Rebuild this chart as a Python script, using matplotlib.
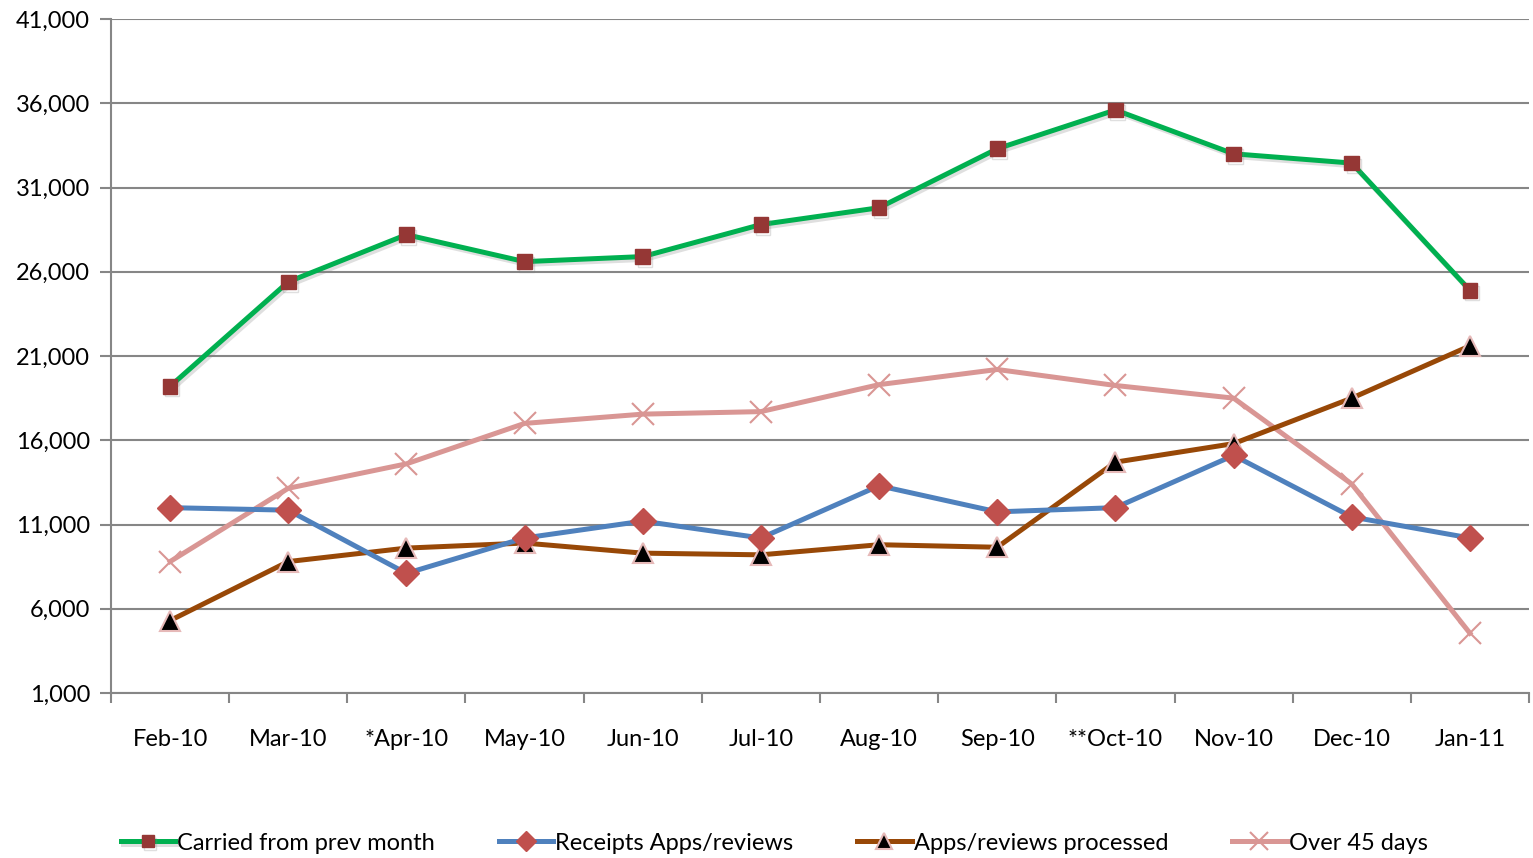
import matplotlib
matplotlib.use("Agg")
import matplotlib.pyplot as plt
import matplotlib.patheffects as pe
from matplotlib.ticker import FuncFormatter, FixedLocator

plt.rcParams['font.family'] = ['Lato', 'DejaVu Sans']

months = ["Feb-10", "Mar-10", "*Apr-10", "May-10", "Jun-10", "Jul-10",
          "Aug-10", "Sep-10", "**Oct-10", "Nov-10", "Dec-10", "Jan-11"]
carried = [19200, 25400, 28200, 26600, 26900, 28800, 29800, 33300, 35600, 33000, 32450, 24900]
receipts = [12000, 11850, 8100, 10200, 11200, 10200, 13300, 11750, 12000, 15100, 11450, 10200]
processed = [5300, 8800, 9600, 9900, 9300, 9200, 9800, 9650, 14700, 15800, 18500, 21600]
over45 = [8800, 13150, 14600, 17000, 17550, 17700, 19300, 20200, 19250, 18500, 13400, 4550]
yticks = [1000, 6000, 11000, 16000, 21000, 26000, 31000, 36000, 41000]

fig = plt.figure(figsize=(15.33, 8.58), dpi=100)
ax = fig.add_axes([111/1533, 165/858, 1418/1533, 674/858])
x = list(range(len(months)))

ax.plot(x, carried, color="#00B050", lw=3.6, marker="s", ms=10.5,
        mfc="#953735", mec="#953735", label="Carried from prev month", zorder=5,
        path_effects=[pe.SimpleLineShadow(offset=(1.5, -2), alpha=0.25, shadow_color='gray'), pe.Normal()])
ax.plot(x, receipts, color="#4F81BD", lw=3.6, marker="D", ms=13,
        mfc="#C0504D", mec="#C0504D", label="Receipts Apps/reviews", zorder=4)
ax.plot(x, processed, color="#984807", lw=3.6, marker="^", ms=14,
        mfc="black", mec="#E6B9B8", mew=1.5, label="Apps/reviews processed", zorder=3)
ax.plot(x, over45, color="#D99694", lw=3.6, marker="x", ms=16,
        mfc="#D99694", mec="#D99694", mew=1.5, label="Over 45 days", zorder=2)

ax.set_xlim(-0.5, len(months) - 0.5)
ax.set_ylim(yticks[0], yticks[-1])
ax.yaxis.set_major_locator(FixedLocator(yticks))
ax.yaxis.set_major_formatter(FuncFormatter(lambda v, p: f"{int(v):,}"))
ax.set_xticks(x)
ax.set_xticklabels(months)
ax.set_xticks([i + 0.5 for i in x[:-1]] + [-0.5, len(months) - 0.5], minor=True)
ax.tick_params(axis='x', which='major', length=0, pad=26, labelsize=17)
ax.tick_params(axis='x', which='minor', length=7, width=1.5, color="#868686", direction='out')
ax.tick_params(axis='y', length=8, width=1.5, color="#868686", labelsize=17, pad=7)
ax.grid(axis='y', color="#868686", lw=1.5)
ax.set_axisbelow(True)
for s in ['top', 'right']:
    ax.spines[s].set_visible(False)
for s in ['left', 'bottom']:
    ax.spines[s].set_color("#868686")
    ax.spines[s].set_linewidth(1.5)

leg = fig.legend(loc='center', bbox_to_anchor=(0.505, 1 - 843/858), ncol=4, frameon=False,
                 fontsize=17, handlelength=2.3, handletextpad=0.1, columnspacing=2.7,
                 markerscale=0.8)
fig.savefig("out.png", dpi=100)
